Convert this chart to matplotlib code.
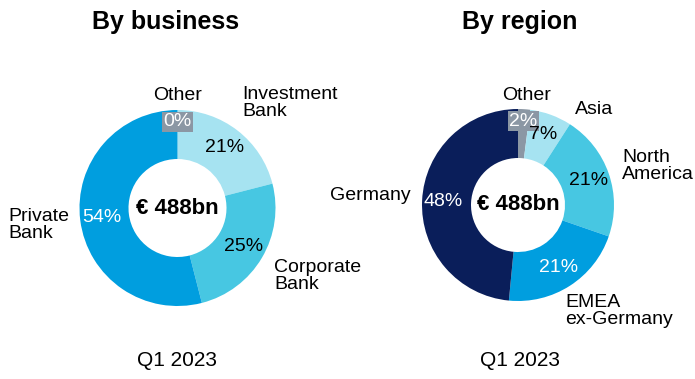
import numpy as np
import matplotlib
matplotlib.use("Agg")
import matplotlib.pyplot as plt

plt.rcParams['font.family'] = ['Liberation Sans', 'DejaVu Sans']

# Loan book split, Q1 2023 (in %)
business_names = ["Other", "Investment\nBank", "Corporate\nBank", "Private\nBank"]
business_share = [0, 21, 25, 54]

region_names = ["Other", "Asia", "North\nAmerica", "EMEA\nex-Germany", "Germany"]
region_share = [2, 7, 21, 21, 48]

total_label = "€ 488bn"
period = "Q1 2023"

GREY = "#8b97a4"
LIGHT = "#a6e3f1"
MID = "#47c7e2"
BLUE = "#009edf"
NAVY = "#0a1e5a"

business_colors = [GREY, LIGHT, MID, BLUE]
business_text = ["white", "black", "black", "white"]
region_colors = [GREY, LIGHT, MID, BLUE, NAVY]
region_text = ["white", "black", "black", "white", "white"]

W, H = 695, 379
fig = plt.figure(figsize=(W / 100, H / 100), dpi=100)
ax = fig.add_axes([0, 0, 1, 1])


def donut(shares, colors, txt_colors, cx, cy, R, r):
    cy = H - cy
    wedges, _ = ax.pie(shares, colors=colors, startangle=90, counterclock=False,
                       center=(cx, cy), radius=R,
                       wedgeprops=dict(width=R - r, linewidth=0))
    for i, (w, v, tc) in enumerate(zip(wedges, shares, txt_colors)):
        th = np.deg2rad((w.theta1 + w.theta2) / 2)
        if i == 0:
            # "Other" label sits in a grey box at the top of the ring
            rr = R - 12
            ax.text(cx + rr * np.cos(th), cy + rr * np.sin(th), f"{v}%",
                    ha="center", va="center", fontsize=14, color="white",
                    bbox=dict(boxstyle="square,pad=0.08", fc=GREY, ec="none"))
        else:
            rr = (R + r) / 2 + 3
            ax.text(cx + rr * np.cos(th), cy + rr * np.sin(th), f"{v}%",
                    ha="center", va="center", fontsize=14, color=tc)
    ax.text(cx, cy, total_label, ha="center", va="center",
            fontsize=16, fontweight="bold")


donut(business_share, business_colors, business_text, 177.5, 208, 98, 49)
donut(region_share, region_colors, region_text, 518, 205, 96, 47)

# category labels
lab = dict(fontsize=14, va="center", linespacing=1.0)
ax.text(178, H - 95, business_names[0], ha="center", **lab)
ax.text(242, H - 103, business_names[1], ha="left", **lab)
ax.text(274, H - 276, business_names[2], ha="left", **lab)
ax.text(8, H - 225, business_names[3], ha="left", **lab)

ax.text(527, H - 95, region_names[0], ha="center", **lab)
ax.text(575, H - 110, region_names[1], ha="left", **lab)
ax.text(622, H - 166, region_names[2], ha="left", **lab)
ax.text(565, H - 311, region_names[3], ha="left", **lab)
ax.text(411, H - 195, region_names[4], ha="right", **lab)

# titles and period
ax.text(166, H - 22, "By business", ha="center", va="center",
        fontsize=18, fontweight="bold")
ax.text(520, H - 22, "By region", ha="center", va="center",
        fontsize=18, fontweight="bold")
ax.text(177, H - 360, period, ha="center", va="center", fontsize=15)
ax.text(520, H - 360, period, ha="center", va="center", fontsize=15)

ax.set_xlim(0, W)
ax.set_ylim(0, H)
ax.set_aspect("auto")
ax.axis("off")

fig.savefig("out.png", dpi=100)
